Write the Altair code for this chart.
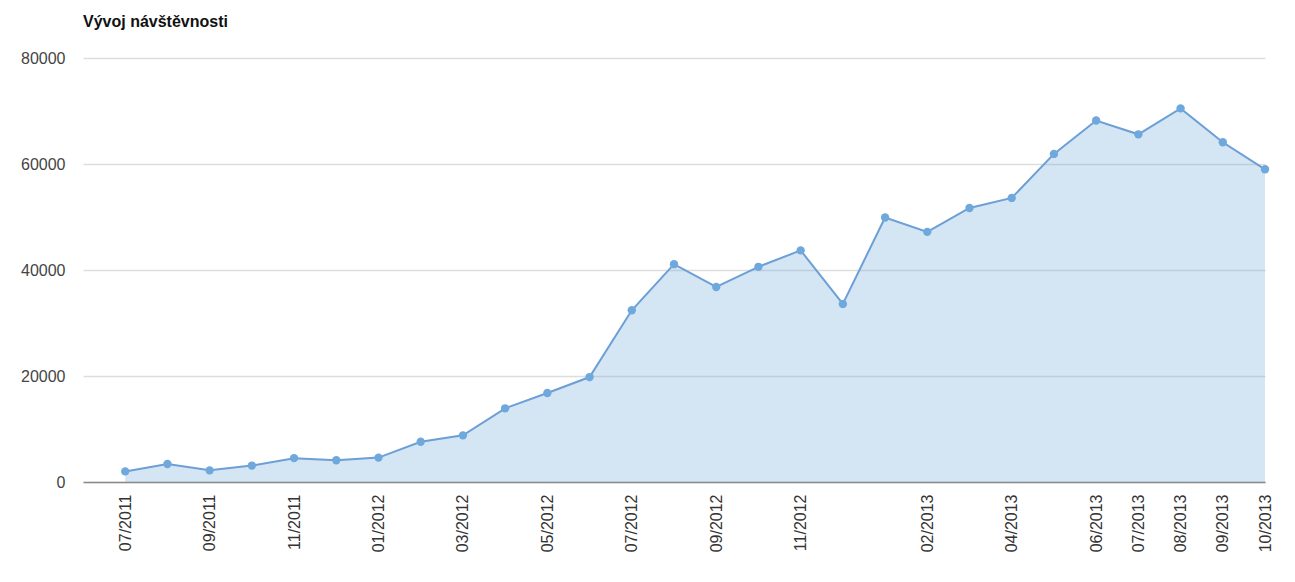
import altair as alt
import pandas as pd

months = ["07/2011", "08/2011", "09/2011", "10/2011", "11/2011", "12/2011",
          "01/2012", "02/2012", "03/2012", "04/2012", "05/2012", "06/2012",
          "07/2012", "08/2012", "09/2012", "10/2012", "11/2012", "12/2012",
          "01/2013", "02/2013", "03/2013", "04/2013", "05/2013", "06/2013",
          "07/2013", "08/2013", "09/2013", "10/2013"]
visits = [2000, 3400, 2200, 3100, 4500, 4100, 4600, 7600, 8800, 13900,
          16800, 19800, 32400, 41100, 36800, 40600, 43700, 33600, 49900,
          47200, 51700, 53600, 61900, 68200, 65600, 70500, 64100, 59000]
shown_labels = ["07/2011", "09/2011", "11/2011", "01/2012", "03/2012",
                "05/2012", "07/2012", "09/2012", "11/2012", "02/2013",
                "04/2013", "06/2013", "07/2013", "08/2013", "09/2013", "10/2013"]
y_ticks = [0, 20000, 40000, 60000, 80000]

df = pd.DataFrame({"idx": list(range(len(months))), "month": months, "visits": visits})
tick_idx = [months.index(m) for m in shown_labels]
label_expr = "[" + ",".join("'%s'" % m for m in months) + "][datum.value]"

FONT = "Liberation Sans"
BLUE = "#6fa8dc"

x = alt.X("idx:Q",
          scale=alt.Scale(domain=[-1, len(months) - 1], nice=False, zero=False),
          axis=alt.Axis(title=None, values=tick_idx, labelExpr=label_expr,
                        labelAngle=270, grid=False, ticks=False,
                        domainColor="#8a8a8a", domainWidth=1.5,
                        labelFont=FONT, labelFontSize=16, labelColor="#333333",
                        labelPadding=12, labelOverlap=False))
y = alt.Y("visits:Q",
          scale=alt.Scale(domain=[0, 80000], nice=False),
          axis=alt.Axis(title=None, values=y_ticks, format="d", grid=True,
                        gridColor="#dddddd", gridWidth=1.5, domain=False,
                        ticks=False, labelFont=FONT, labelFontSize=16,
                        labelColor="#444444", labelPadding=18))

base = alt.Chart(df).encode(x=x, y=y)
area = base.mark_area(color=BLUE, opacity=0.3)
line = base.mark_line(color="#6c9fd6", strokeWidth=2)
pts = base.mark_point(filled=True, color=BLUE, size=70, opacity=1)

chart = (area + line + pts).properties(
    width=1182, height=424,
    background="white",
    title=alt.TitleParams("Vývoj návštěvnosti", anchor="start", frame="group",
                          font=FONT, fontSize=16, fontWeight="bold",
                          color="#111111", offset=20),
    padding={"left": 75, "top": 50, "right": 20, "bottom": 90},
    autosize=alt.AutoSizeParams(type="none"),
).configure_view(strokeOpacity=0, strokeWidth=0)

chart.save("out.html", embed_options={"renderer": "svg", "actions": False})
